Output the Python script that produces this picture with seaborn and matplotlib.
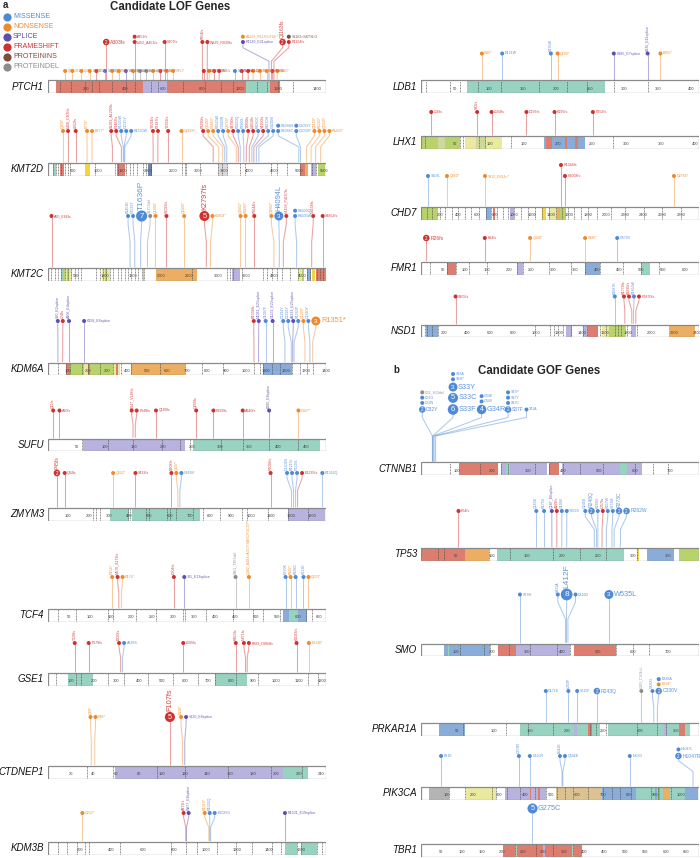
import numpy as np
import pandas as pd
import matplotlib
matplotlib.use("Agg")
import matplotlib.pyplot as plt
import seaborn as sns
from matplotlib.patches import Rectangle

# ============================ DATA ============================
TYPE_CODES = ["M", "N", "S", "F", "I", "D"]
TYPE_NAMES = ["MISSENSE", "NONSENSE", "SPLICE", "FRAMESHIFT", "PROTEININS", "PROTEINDEL"]

# mutation tuples: (position, type, label, count, tier)
PTCH1_LEN = 1447
PTCH1_DOMAINS = [(44, 495, "sal"), (495, 617, "lav"), (617, 1030, "sal"), (1030, 1158, "tea"), (1158, 1207, "sal")]
PTCH1_EXONS = [64, 118, 191, 231, 266, 335, 408, 452, 538, 573, 703, 816, 903, 964, 1086, 1138, 1199, 1277]
PTCH1_MUTS = [
    (89, "N", "Q89*", 1, 0), (127, "N", "W127*", 1, 0), (174, "N", "Q174*", 1, 0), (217, "N", "E217*", 1, 0),
    (252, "F", "L252fs", 1, 0), (297, "M", "G297R", 1, 0), (334, "N", "Q334*", 1, 0), (368, "N", "W368*", 1, 0),
    (405, "S", "405_E8splice", 1, 0), (443, "N", "Q443*", 1, 0), (478, "D", "L478del", 1, 0), (512, "D", "F512del", 1, 0),
    (547, "N", "Q547*", 1, 0), (585, "F", "S585fs", 1, 0), (617, "N", "R617*", 1, 0), (651, "N", "W651*", 1, 0),
    (811, "F", "P811fs", 1, 0), (839, "N", "Q839*", 1, 0), (865, "F", "L865fs", 1, 0), (891, "F", "T891fs", 1, 0),
    (973, "M", "G973R", 1, 0), (1008, "F", "V1008fs", 1, 0), (1042, "F", "S1042fs", 1, 0), (1068, "N", "Q1068*", 1, 0),
    (1103, "N", "R1103*", 1, 0), (1138, "N", "W1138*", 1, 0), (1169, "F", "Y1169fs", 1, 0), (1193, "N", "Q1193*", 1, 0),
    (303, "F", "A303fs", 2, 1), (451, "F", "L452_A451fs", 1, 1), (451, "F", "A451fs", 1, 1), (607, "F", "V607fs", 1, 1),
    (804, "F", "P804fs", 1, 1), (829, "F", "W829_R830fs", 1, 1), (1150, "S", "R1130_E21splice", 1, 1),
    (1150, "N", "A1123_R1130>FUF*", 1, 1), (1163, "F", "Q1163fs", 2, 1), (1176, "F", "R1164fs", 1, 1),
    (1176, "I", "S1162>S&TSLG", 1, 1),
]

KMT2D_LEN = 5537
KMT2D_DOMAINS = [(100, 153, "tea"), (233, 312, "sal"), (731, 831, "yel"), (1376, 1529, "sal"), (1994, 2080, "sla"),
                 (3390, 3556, "lgr"), (5018, 5118, "sal"), (5118, 5180, "ora"), (5230, 5330, "lav"), (5384, 5517, "ygr")]
KMT2D_EXONS = [100, 153, 199, 266, 332, 399, 445, 931, 1329, 1396, 1549, 1642, 1695, 1775, 1894, 1961, 2061, 2659,
               2725, 2758, 3024, 3390, 3456, 3556, 3822, 3922, 4440, 4553, 4752, 5018, 5251, 5338]
KMT2D_MUTS = [
    (299, "N", "Q300*", 1, 0), (399, "F", "L400_C405fs", 1, 0), (552, "F", "L552fs", 1, 0), (778, "N", "E778*", 1, 0),
    (877, "N", "E877*", 1, 0), (1283, "F", "S1283_A1290fs", 1, 0), (1462, "F", "P1462fs", 1, 0),
    (1500, "M", "R1500W", 1, 0), (1515, "M", "C1515Y", 1, 0), (1530, "M", "R1530W", 1, 0), (2094, "F", "Y2094fs", 1, 0),
    (2187, "F", "P2187fs", 1, 0), (2393, "F", "Y2393fs", 1, 0), (2659, "N", "Q2659*", 1, 0), (3290, "F", "P3290fs", 1, 0),
    (3400, "N", "Q3400*", 1, 0), (3480, "N", "R3480*", 1, 0), (3520, "M", "R3520W", 1, 0), (3560, "M", "G3560R", 1, 0),
    (3750, "N", "Q3750*", 1, 0), (3790, "F", "S3790fs", 1, 0), (3830, "M", "R3830Q", 1, 0), (3900, "M", "P3900L", 1, 0),
    (3950, "F", "T3950fs", 1, 0), (4010, "F", "L4010fs", 1, 0), (4060, "M", "R4060C", 1, 0), (4100, "F", "V4100fs", 1, 0),
    (4150, "M", "R4150H", 1, 0), (4200, "M", "G4200S", 1, 0), (4995, "M", "R5048C", 1, 0), (4995, "M", "R5048H", 1, 0),
    (5030, "M", "C5032F", 1, 0), (5030, "M", "C5032Y", 1, 0), (5150, "N", "Q5150*", 1, 0), (5240, "N", "R5240*", 1, 0),
    (5330, "N", "Q5330*", 1, 0), (5430, "N", "R5430*", 1, 0),
]

KMT2C_LEN = 4911
KMT2C_DOMAINS = [(236, 270, "tea"), (270, 300, "ygr"), (300, 330, "pye"), (330, 370, "ygr"), (370, 430, "pye"),
                 (950, 1000, "pye"), (1000, 1050, "ygr"), (1050, 1100, "pye"), (1670, 1700, "tan"), (1904, 2624, "ora"),
                 (3243, 3390, "lav"), (4420, 4480, "pye"), (4480, 4530, "ygr"), (4570, 4640, "blu"),
                 (4660, 4720, "yel"), (4740, 4890, "sal"), (4890, 4911, "grn")]
KMT2C_EXONS = [59, 118, 177, 236, 295, 354, 413, 472, 531, 590, 855, 914, 973, 1032, 1091, 1150, 1238, 1297, 1356,
               1415, 1474, 1533, 1592, 1663, 1698, 2535, 3154, 3213, 3272, 3420, 3803, 3862, 3950, 4039, 4127, 4275,
               4422, 4570, 4629, 4747, 4805, 4864]
KMT2C_MUTS = [
    (62, "F", "A60_E66fs", 1, 0), (1450, "M", "K1451E", 1, 0), (1533, "M", "P1533T", 1, 0), (1636, "M", "T1636P", 7, 0),
    (1757, "D", "S1757del", 1, 0), (1899, "N", "Q1899*", 1, 0), (2093, "F", "S2093fs", 1, 0), (2405, "N", "Q2405*", 1, 0),
    (2797, "F", "K2797fs", 5, 0), (2871, "N", "K2804*", 1, 0), (3402, "N", "Q3402*", 1, 0), (3490, "N", "R3490*", 1, 0),
    (3644, "F", "P3644fs", 1, 0), (3992, "N", "Q3992*", 1, 0), (4086, "M", "H4094L", 3, 0),
    (4157, "F", "H4158_P4157fs", 1, 0), (4392, "M", "R4400W", 1, 0), (4392, "M", "R4400Q", 1, 0),
    (4658, "F", "N4658fs", 1, 0), (4852, "F", "S4852fs", 1, 0),
]

KDM6A_LEN = 1401
KDM6A_DOMAINS = [(93, 109, "sal"), (109, 180, "ygr"), (180, 200, "pye"), (200, 210, "sal"), (210, 330, "ygr"),
                 (330, 362, "pye"), (345, 352, "sal"), (420, 690, "ora"), (1085, 1228, "blu")]
KDM6A_EXONS = [50, 93, 109, 173, 202, 261, 328, 370, 420, 563, 690, 774, 883, 1038, 1068, 1085, 1127, 1169, 1228,
               1270, 1304, 1337]
KDM6A_MUTS = [
    (50, "S", "S50_E2splice", 1, 0), (74, "F", "L74fs", 1, 0), (106, "S", "A106_E4splice", 1, 0),
    (182, "S", "K158_E6splice", 1, 0), (1038, "F", "R1038fs", 1, 0), (1061, "S", "N1061_E21splice", 1, 0),
    (1097, "M", "G1097F", 1, 0), (1132, "S", "G1132_E22splice", 1, 0), (1194, "M", "D1194Y", 1, 0),
    (1226, "M", "D1226Y", 1, 0), (1233, "S", "A1233_E25splice", 1, 0), (1240, "M", "R1240P", 1, 0),
    (1295, "N", "Q1295*", 1, 0), (1320, "M", "C1320Y", 1, 0), (1334, "N", "R1351*", 3, 0),
]

SUFU_LEN = 484
SUFU_DOMAINS = [(61, 238, "lav"), (252, 474, "tea")]
SUFU_EXONS = [60, 105, 148, 199, 230, 247, 302, 340, 385, 435]
SUFU_MUTS = [
    (9, "F", "Q11fs", 1, 0), (20, "F", "A20fs", 1, 0), (148, "F", "F147_V148fs", 1, 0), (152, "F", "F148fs", 1, 0),
    (188, "F", "Q189fs", 1, 0), (258, "F", "Q259fs", 1, 0), (288, "F", "R289fs", 1, 0), (339, "F", "A340fs", 1, 0),
    (385, "S", "K385_E8splice", 1, 0), (436, "N", "G437*", 1, 0),
]

ZMYM3_LEN = 1370
ZMYM3_DOMAINS = [(304, 400, "tea"), (412, 748, "tea"), (1184, 1365, "lav")]
ZMYM3_EXONS = [222, 239, 255, 392, 406, 485, 498, 584, 600, 633, 716, 765, 847, 954, 979, 1086, 1184, 1283]
ZMYM3_MUTS = [
    (44, "F", "P45fs", 2, 0), (82, "F", "Q84fs", 1, 0), (321, "N", "Q322*", 1, 0), (431, "F", "S433fs", 1, 0),
    (608, "F", "D608fs", 1, 0), (640, "N", "Q647*", 1, 0), (650, "M", "G659V", 1, 0), (1097, "F", "P1096fs", 1, 0),
    (1200, "M", "D1201N", 1, 0), (1210, "M", "R1210L", 1, 0), (1220, "M", "P1220L", 1, 0),
    (1230, "F", "E1235fs", 1, 0), (1352, "M", "R1352Q", 1, 0),
]

TCF4_LEN = 667
TCF4_DOMAINS = [(563, 622, "blu"), (578, 600, "tea")]
TCF4_EXONS = [24, 68, 144, 156, 212, 260, 324, 328, 380, 444, 492, 516, 556, 620, 633]
TCF4_MUTS = [
    (154, "N", "R154*", 1, 0), (170, "F", "M170_S173fs", 1, 0), (176, "N", "R174*", 1, 0), (302, "F", "D304fs", 1, 0),
    (327, "S", "331_E13splice", 1, 0), (450, "D", "S461_T463del", 1, 0),
    (482, "N", "Q482_A483>AGGYSASCPGCGP*", 1, 0), (570, "M", "N570K", 1, 0), (582, "N", "R582*", 1, 0),
    (594, "M", "R594C", 1, 0), (613, "M", "V613E", 1, 0), (625, "N", "Q623*", 1, 0),
]

GSE1_LEN = 1217
GSE1_DOMAINS = [(88, 197, "tea"), (730, 872, "tea")]
GSE1_EXONS = [37, 124, 146, 263, 332, 438, 548, 657, 730, 825, 920, 1140, 1183]
GSE1_MUTS = [
    (117, "F", "T120fs", 1, 0), (178, "F", "F179fs", 1, 0), (318, "F", "E320fs", 1, 0), (326, "M", "A328S", 1, 0),
    (592, "F", "L595fs", 1, 0), (822, "F", "R823fs", 1, 0), (865, "F", "N871fs", 1, 0),
    (872, "F", "K883_D884fs", 1, 0), (1088, "F", "K1083fs", 1, 0), (1142, "N", "E1140*", 1, 0),
]

CTDNEP1_LEN = 244
CTDNEP1_DOMAINS = [(59, 206, "lav"), (206, 228, "tea")]
CTDNEP1_EXONS = [34, 57, 96, 120, 158, 196, 223]
CTDNEP1_MUTS = [
    (38, "N", "Q39*", 1, 0), (41, "N", "R42*", 1, 0), (107, "F", "F107fs", 5, 0), (118, "N", "E119*", 1, 0),
    (120, "S", "V120_E8splice", 1, 0),
]

KDM3B_LEN = 1761
KDM3B_DOMAINS = [(1500, 1575, "tea"), (1600, 1706, "tea")]
KDM3B_EXONS = [63, 120, 184, 233, 260, 459, 782, 871, 945, 1068, 1194, 1290, 1416, 1473, 1575, 1600, 1706, 1733]
KDM3B_MUTS = [
    (218, "N", "G222*", 1, 0), (873, "F", "A873fs", 1, 0), (877, "S", "W877_E8splice", 1, 0),
    (1019, "N", "R1019*", 1, 0), (1024, "M", "R1024Q", 1, 0), (1030, "M", "E1025G", 1, 0),
    (1501, "S", "R1501_E19splice", 1, 0),
]

LDB1_LEN = 411
LDB1_DOMAINS = [(68, 272, "tea")]
LDB1_EXONS = [8, 43, 58, 85, 118, 175, 216, 245, 286, 335]
LDB1_MUTS = [
    (90, "N", "W90*", 1, 0), (120, "M", "R121W", 1, 0), (192, "M", "R193W", 1, 0), (202, "N", "Q200*", 1, 0),
    (285, "S", "K285_E7splice", 1, 0), (335, "S", "K335_E11splice", 1, 0), (354, "N", "E350*", 1, 0),
]

LHX1_LEN = 406
LHX1_DOMAINS = [(2, 57, "ygr"), (25, 35, "gyy"), (64, 118, "pye"), (80, 95, "gyy"), (180, 239, "blu"),
                (182, 192, "sal"), (210, 213, "sal"), (225, 230, "sal")]
LHX1_EXONS = [6, 57, 62, 84, 93, 132, 281]
LHX1_MUTS = [
    (15, "F", "L16fs", 1, 0), (82, "F", "V82fs", 1, 0), (103, "F", "L104fs", 1, 0), (154, "F", "D156fs", 1, 0),
    (195, "F", "K195fs", 1, 0), (251, "F", "P252fs", 1, 0),
]

CHD7_LEN = 2997
CHD7_DOMAINS = [(0, 180, "ygr"), (700, 760, "blu"), (780, 800, "sal"), (960, 1000, "lav"), (1300, 1350, "yel"),
                (1380, 1470, "pye"), (1470, 1500, "ora"), (1500, 1560, "ygr")]
CHD7_EXONS = [60, 120, 200, 260, 330, 400, 470, 540, 620, 700, 760, 820, 880, 940, 1000, 1080, 1150, 1230, 1300,
              1380, 1450, 1520, 1580, 1650, 1720, 1800, 1900, 2050, 2200, 2400, 2600, 2800]
CHD7_MUTS = [
    (75, "M", "S103L", 1, 0), (280, "N", "Q360*", 1, 0), (690, "N", "T812_E814>*", 1, 0),
    (1509, "F", "R1344fs", 1, 1), (1552, "F", "K2008fs", 1, 0), (2727, "N", "Q2766*", 1, 0),
]

FMR1_LEN = 632
FMR1_DOMAINS = [(59, 80, "sal"), (218, 232, "lav"), (373, 407, "blu"), (500, 520, "tea")]
FMR1_EXONS = [20, 59, 80, 110, 150, 218, 232, 290, 340, 373, 407, 460, 500, 540]
FMR1_MUTS = [
    (12, "F", "R26fs", 2, 0), (145, "F", "K94fs", 1, 0), (248, "N", "Q446*", 1, 0), (373, "N", "S385*", 1, 0),
    (446, "M", "G570V", 1, 0),
]

NSD1_LEN = 2420
NSD1_DOMAINS = [(43, 151, "blu"), (1266, 1318, "lav"), (1411, 1450, "lav"), (1450, 1537, "sal"), (1575, 1640, "pye"),
                (1640, 1782, "ygr"), (1825, 1875, "lav"), (2159, 2382, "ora")]
NSD1_EXONS = [35, 55, 93, 151, 991, 1121, 1156, 1194, 1237, 1310, 1411, 1446, 1556, 1614, 1687, 1716, 1745, 1794, 1881]
NSD1_MUTS = [
    (301, "F", "S305fs", 1, 0), (1687, "M", "E1687K", 1, 0), (1774, "F", "R1774fs", 1, 0), (1835, "F", "K1835fs", 1, 0),
    (1850, "M", "R1850W", 1, 0), (1870, "F", "P1870fs", 1, 0),
]

CTNNB1_LEN = 781
CTNNB1_DOMAINS = [(108, 217, "sal"), (226, 353, "lav"), (240, 250, "tea"), (359, 388, "sal"), (395, 622, "lav"),
                  (560, 580, "tea")]
CTNNB1_EXONS = [81, 166, 226, 245, 320, 359, 399, 446, 512, 600, 652, 694]
CTNNB1_MUTS = [
    (32, "M", "D32Y", 2, 0), (32, "M", "D32N", 1, 0), (32, "M", "D32G", 1, 0), (32, "D", "D32_S33del", 1, 0),
    (33, "M", "S33F", 6, 0), (33, "M", "S33C", 5, 0), (33, "M", "S33Y", 3, 0), (33, "M", "S33P", 1, 0),
    (33, "M", "S33A", 1, 0), (34, "M", "G34R", 4, 0), (34, "M", "G34V", 1, 0), (34, "M", "G34E", 1, 0),
    (37, "M", "S37F", 2, 0), (37, "M", "S37C", 1, 0), (37, "M", "S37Y", 1, 0), (37, "M", "S37P", 1, 0),
    (41, "M", "T41A", 1, 0),
]

TP53_LEN = 393
TP53_DOMAINS = [(0, 62, "sal"), (62, 96, "ora"), (107, 287, "tea"), (305, 308, "yel"), (320, 358, "blu"), (365, 393, "ygr")]
TP53_EXONS = [24, 32, 96, 126, 186, 225, 261, 305]
TP53_MUTS = [
    (53, "F", "P54fs", 1, 0), (163, "M", "Q165K", 1, 0), (174, "M", "R175H", 1, 0), (185, "S", "Q187_E6splice", 1, 0),
    (192, "F", "A189fs", 1, 0), (199, "M", "G199V", 1, 0), (206, "M", "Y205S", 1, 0), (245, "M", "G245S", 1, 0),
    (248, "M", "R248Q", 2, 0), (250, "M", "R249G", 1, 0), (256, "F", "L257fs", 1, 0), (262, "M", "R267W", 1, 0),
    (270, "M", "V272M", 1, 0), (273, "M", "R273C", 2, 0), (282, "M", "R282W", 2, 0),
]

SMO_LEN = 787
SMO_DOMAINS = [(66, 195, "blu"), (76, 80, "tea"), (219, 270, "sal"), (270, 423, "lav"), (433, 553, "sal")]
SMO_EXONS = [110, 179, 195, 250, 308, 384, 423, 553, 600, 646]
SMO_MUTS = [
    (280, "M", "S278I", 1, 0), (409, "M", "S411A", 1, 0), (412, "M", "L412F", 8, 0), (416, "M", "D416D", 1, 0),
    (532, "M", "W535L", 3, 0),
]

PRKAR1A_LEN = 381
PRKAR1A_DOMAINS = [(24, 60, "blu"), (135, 245, "tea"), (256, 368, "tea"), (229, 235, "sal"), (354, 362, "sal"),
                   (210, 214, "lav"), (333, 337, "lav")]
PRKAR1A_EXONS = [58, 116, 147, 181, 231, 240, 254, 296, 323, 336]
PRKAR1A_MUTS = [
    (171, "M", "G171E", 1, 0), (202, "M", "L203P", 1, 0), (214, "M", "V215F", 1, 0), (241, "M", "R243Q", 2, 0),
    (302, "D", "L303_C304>L", 1, 0), (319, "M", "V320G", 1, 0), (324, "M", "C330V", 2, 0), (324, "N", "E328*", 1, 0),
    (324, "M", "E328A", 1, 0),
]

PIK3CA_LEN = 1068
PIK3CA_DOMAINS = [(31, 109, "gry"), (173, 290, "pye"), (322, 482, "lav"), (418, 424, "sal"), (450, 456, "sal"),
                  (520, 696, "tan"), (696, 827, "blu"), (827, 1013, "tea"), (900, 906, "blu"), (911, 920, "grn"),
                  (930, 958, "ora"), (1013, 1064, "blu")]
PIK3CA_EXONS = [109, 169, 271, 290, 329, 380, 437, 482, 521, 553, 585, 642, 700, 732, 764, 808, 885, 911, 962]
PIK3CA_MUTS = [
    (77, "M", "E81K", 1, 0), (376, "M", "C378R", 1, 0), (418, "M", "C420R", 1, 0), (542, "M", "E542K", 1, 0),
    (545, "M", "Q546K", 1, 0), (802, "M", "N803I", 1, 0), (1045, "M", "H1047R", 2, 0), (1045, "M", "H1047L", 1, 0),
]

TBR1_LEN = 682
TBR1_DOMAINS = [(200, 396, "sal"), (230, 236, "tea"), (300, 305, "lav"), (370, 376, "tea")]
TBR1_EXONS = [230, 283, 324, 373]
TBR1_MUTS = [(273, "M", "G275C", 5, 0)]

# ============================ STYLE / LAYOUT ============================
TYPE_COLORS = ["#4f8ad6", "#ee8a2a", "#5b4fb0", "#cf3030", "#7e4b3d", "#8c8c8c"]
PALETTE = dict(zip(TYPE_CODES, TYPE_COLORS))
DOMAIN_COLORS = {"sal": "#dc7d6f", "lav": "#b7b2de", "tea": "#98d2c1", "ora": "#ebae62", "blu": "#8aacd8",
                 "ygr": "#b8d36c", "pye": "#e9e9a0", "gry": "#b4b4b4", "tan": "#dcc291", "yel": "#f2d53f",
                 "grn": "#86c157", "sla": "#6b86a8", "lgr": "#dadada", "gyy": "#cfd89b"}

GENES = [
    ("PTCH1", PTCH1_LEN, PTCH1_DOMAINS, PTCH1_EXONS, PTCH1_MUTS, dict(col=0, top=80.5, H={0: 9.5, 1: 38.5}, step=200, mode={0: "hx"}, small={0: 2.2})),
    ("KMT2D", KMT2D_LEN, KMT2D_DOMAINS, KMT2D_EXONS, KMT2D_MUTS, dict(col=0, top=163, H={0: 32}, step=500)),
    ("KMT2C", KMT2C_LEN, KMT2C_DOMAINS, KMT2C_EXONS, KMT2C_MUTS, dict(col=0, top=268, H={0: 52}, step=500)),
    ("KDM6A", KDM6A_LEN, KDM6A_DOMAINS, KDM6A_EXONS, KDM6A_MUTS, dict(col=0, top=363, H={0: 42}, step=100)),
    ("SUFU", SUFU_LEN, SUFU_DOMAINS, SUFU_EXONS, SUFU_MUTS, dict(col=0, top=438.5, H={0: 28}, step=50)),
    ("ZMYM3", ZMYM3_LEN, ZMYM3_DOMAINS, ZMYM3_EXONS, ZMYM3_MUTS, dict(col=0, top=508, H={0: 35}, step=100)),
    ("TCF4", TCF4_LEN, TCF4_DOMAINS, TCF4_EXONS, TCF4_MUTS, dict(col=0, top=609, H={0: 32}, step=50)),
    ("GSE1", GSE1_LEN, GSE1_DOMAINS, GSE1_EXONS, GSE1_MUTS, dict(col=0, top=673, H={0: 30}, step=100)),
    ("CTDNEP1", CTDNEP1_LEN, CTDNEP1_DOMAINS, CTDNEP1_EXONS, CTDNEP1_MUTS, dict(col=0, top=766, H={0: 49}, step=20)),
    ("KDM3B", KDM3B_LEN, KDM3B_DOMAINS, KDM3B_EXONS, KDM3B_MUTS, dict(col=0, top=842, H={0: 29}, step=200)),
    ("LDB1", LDB1_LEN, LDB1_DOMAINS, LDB1_EXONS, LDB1_MUTS, dict(col=1, top=80.5, H={0: 27}, step=50)),
    ("LHX1", LHX1_LEN, LHX1_DOMAINS, LHX1_EXONS, LHX1_MUTS, dict(col=1, top=136, H={0: 24}, step=50)),
    ("CHD7", CHD7_LEN, CHD7_DOMAINS, CHD7_EXONS, CHD7_MUTS, dict(col=1, top=207, H={0: 31, 1: 42}, step=200)),
    ("FMR1", FMR1_LEN, FMR1_DOMAINS, FMR1_EXONS, FMR1_MUTS, dict(col=1, top=262, H={0: 24}, step=50)),
    ("NSD1", NSD1_LEN, NSD1_DOMAINS, NSD1_EXONS, NSD1_MUTS, dict(col=1, top=324.5, H={0: 28}, step=200)),
    ("CTNNB1", CTNNB1_LEN, CTNNB1_DOMAINS, CTNNB1_EXONS, CTNNB1_MUTS, dict(col=1, top=462.5, H={0: 53}, step=100, mode={0: "h"})),
    ("TP53", TP53_LEN, TP53_DOMAINS, TP53_EXONS, TP53_MUTS, dict(col=1, top=548, H={0: 37}, step=50)),
    ("SMO", SMO_LEN, SMO_DOMAINS, SMO_EXONS, SMO_MUTS, dict(col=1, top=643.5, H={0: 49}, step=100)),
    ("PRKAR1A", PRKAR1A_LEN, PRKAR1A_DOMAINS, PRKAR1A_EXONS, PRKAR1A_MUTS, dict(col=1, top=723, H={0: 32}, step=50)),
    ("PIK3CA", PIK3CA_LEN, PIK3CA_DOMAINS, PIK3CA_EXONS, PIK3CA_MUTS, dict(col=1, top=787, H={0: 31}, step=100)),
    ("TBR1", TBR1_LEN, TBR1_DOMAINS, TBR1_EXONS, TBR1_MUTS, dict(col=1, top=844, H={0: 36}, step=50)),
]

FIG_W, FIG_H = 700, 858
COLS_X = [48, 421]
COL_MARGIN = [25.0, 0.5]   # how far labels may run past the bar end
BAR_W = 278
BAR_H = 12.5
AX_H = 140
PT2PX = 100.0 / 72.0

sns.set_theme(style="white")
plt.rcParams["font.family"] = ["Liberation Sans", "DejaVu Sans"]


def head_d(c):
    if c == 1:
        return 4.0
    if c == 2:
        return 6.5
    return min(11.7, 7.3 + 0.55 * c)


def label_fs(c):
    if c == 1:
        return 2.6
    if c == 2:
        return 3.6
    return 5.3 if c < 7 else 6.0


def text_w(s, fs):
    return len(s) * fs * 0.56 * PT2PX


def spread(xs, lefts, rights, lclamp, rclamp, lo, hi, pad=1.0):
    n = len(xs)
    order = sorted(range(n), key=lambda i: xs[i])
    clusters = [[i] for i in order]

    def place(cl):
        offs = [0.0]
        for a, b in zip(cl[:-1], cl[1:]):
            offs.append(offs[-1] + rights[a] + lefts[b] + pad)
        start = float(np.mean([xs[i] - o for i, o in zip(cl, offs)]))
        start = min(start, hi - rclamp[cl[-1]] - offs[-1])
        start = max(start, lo + lclamp[cl[0]])
        return start, offs

    changed = True
    while changed:
        changed = False
        placed = [place(c) for c in clusters]
        for k in range(len(clusters) - 1):
            end_k = placed[k][0] + placed[k][1][-1]
            st_k1 = placed[k + 1][0]
            a, b = clusters[k][-1], clusters[k + 1][0]
            if st_k1 - end_k < rights[a] + lefts[b] + pad - 1e-6:
                clusters[k] = clusters[k] + clusters[k + 1]
                del clusters[k + 1]
                changed = True
                break
    res = [0.0] * n
    for c in clusters:
        s, offs = place(c)
        for i, o in zip(c, offs):
            res[i] = s + o
    return res


def draw_gene(fig, name, length, domains, exons, muts, lay):
    x0 = COLS_X[lay["col"]]
    margin = COL_MARGIN[lay["col"]]
    bottom_px = lay["top"] + BAR_H
    ax = fig.add_axes([x0 / FIG_W, 1 - bottom_px / FIG_H, BAR_W / FIG_W, AX_H / FIG_H])
    ax.set_facecolor("none")
    ppu = BAR_W / length

    ax.add_patch(Rectangle((0, 0), length, BAR_H, facecolor="white", edgecolor="none", zorder=0.5))
    for s, e, c in domains:
        ax.add_patch(Rectangle((s, 0), e - s, BAR_H, facecolor=DOMAIN_COLORS[c], edgecolor="none", zorder=1))
    ax.vlines(exons, 0.4, BAR_H - 0.4, colors="#4a4a4a", linestyles=(0, (1.0, 1.0)), linewidth=0.55, zorder=2)
    ax.add_patch(Rectangle((0, 0), length, BAR_H, facecolor="none", edgecolor="#8a8a8a", linewidth=0.9, zorder=3))
    step = lay["step"]
    for t in range(step, length + 1, step):
        ax.text(t, 4.2, str(t), fontsize=2.9, ha="center", va="center", color="#444444", zorder=4)
    ax.annotate(name, xy=(0, BAR_H / 2), xytext=(-4, 0), textcoords="offset pixels", ha="right", va="center",
                fontsize=7.0, style="italic", color="#111111", annotation_clip=False)

    df = pd.DataFrame(muts, columns=["pos", "type", "label", "count", "tier"])
    heads = []
    modes = lay.get("mode", {})
    smalls = lay.get("small", {})
    for tier, sub in df.groupby("tier", sort=True):
        H = lay["H"][tier]
        mode = modes.get(tier, "auto")
        units = []
        for pos, g in sub.groupby("pos", sort=True):
            items = g.to_dict("records")
            for it in items:
                it["d"] = head_d(it["count"])
                it["fs"] = smalls.get(tier, label_fs(it["count"])) if it["count"] == 1 else label_fs(it["count"])
                it["tw"] = text_w(it["label"], it["fs"])
            r = max(it["d"] for it in items) / 2
            tw = max(it["tw"] for it in items)
            units.append(dict(pos=pos, items=items, r=r, tw=tw, stack=len(items) > 1))
        xs = [u["pos"] * ppu for u in units]
        lefts, rights, lcl, rcl = [], [], [], []
        for u in units:
            vh = max(u["items"][0]["fs"] * PT2PX * 0.5, u["r"])
            if mode == "hx":
                lefts.append(u["r"]); rights.append(u["r"]); lcl.append(u["r"]); rcl.append(u["r"])
            elif mode == "h" or u["stack"]:
                lefts.append(u["r"]); rights.append(u["r"] + 1.0 + u["tw"])
                lcl.append(u["r"]); rcl.append(u["r"] + 1.0 + u["tw"])
            else:
                lefts.append(vh); rights.append(vh); lcl.append(u["r"]); rcl.append(vh)
        cs = spread(xs, lefts, rights, lcl, rcl, -2.0, BAR_W + margin)
        ordr = sorted(range(len(units)), key=lambda i: cs[i])
        for k, i in enumerate(ordr):
            u = units[i]
            if mode in ("h", "hx") or u["stack"]:
                horiz = True
            elif k == len(ordr) - 1:
                horiz = cs[i] + u["r"] + 0.8 + u["tw"] <= BAR_W + margin
            else:
                j = ordr[k + 1]
                room = (cs[j] - units[j]["r"]) - (cs[i] + u["r"] + 0.8)
                horiz = room >= u["tw"] + 1.0
            u["horiz"] = horiz
            u["c"] = cs[i]

        for u in units:
            hx = u["c"] / ppu
            base = BAR_H + H
            col0 = PALETTE[u["items"][0]["type"]]
            ax.plot([u["pos"], u["pos"], hx, hx],
                    [BAR_H + 0.8, BAR_H + 0.5 * H, BAR_H + 0.85 * H, base],
                    color=col0, alpha=0.45, linewidth=0.75, zorder=3.5, solid_capstyle="butt", clip_on=False)
            y = base
            prev_d = None
            for it in u["items"]:
                if prev_d is not None:
                    y = y + prev_d / 2 + it["d"] / 2 + 1.3
                prev_d = it["d"]
                col = PALETTE[it["type"]]
                heads.append(dict(x=hx, y=y, type=it["type"], s=(it["d"] / PT2PX) ** 2))
                if it["count"] > 1:
                    ax.text(hx, y - 0.1, str(it["count"]), ha="center", va="center", color="white",
                            fontsize=it["d"] * 0.72 / PT2PX, zorder=7)
                r = it["d"] / 2
                if u["horiz"]:
                    ax.text(hx + (r + 0.6) / ppu, y, it["label"], ha="left", va="center", fontsize=it["fs"],
                            color=col, alpha=0.9, zorder=6)
                else:
                    ax.text(hx, y + r + 0.8, it["label"], ha="center", va="bottom", rotation=90,
                            fontsize=it["fs"], color=col, alpha=0.9, zorder=6)

    hd = pd.DataFrame(heads)
    sizes = {v: v for v in hd["s"].unique()}
    sns.scatterplot(data=hd, x="x", y="y", hue="type", palette=PALETTE, size="s", sizes=sizes,
                    legend=False, ax=ax, linewidth=0, zorder=5, clip_on=False)
    ax.set_xlim(0, length)
    ax.set_ylim(0, AX_H)
    ax.axis("off")


fig = plt.figure(figsize=(FIG_W / 100, FIG_H / 100), dpi=100)
fig.patch.set_facecolor("white")

# legend (figure-level)
leg = fig.add_axes([0, 0, 1, 1])
leg.set_xlim(0, FIG_W)
leg.set_ylim(FIG_H, 0)
leg.axis("off")
for k, (code, nm) in enumerate(zip(TYPE_CODES, TYPE_NAMES)):
    yy = 17 + 10 * k
    leg.scatter([6.5], [yy], s=(8.2 / PT2PX) ** 2, color=PALETTE[code], linewidths=0)
    leg.text(13, yy, nm, fontsize=5.1, color=PALETTE[code], ha="left", va="center")

fig.text(3 / FIG_W, 1 - 5 / FIG_H, "a", fontsize=7, weight="bold", ha="left", va="center")
fig.text(170 / FIG_W, 1 - 7 / FIG_H, "Candidate LOF Genes", fontsize=8.3, weight="bold", ha="center", va="center")
fig.text(393 / FIG_W, 1 - 370 / FIG_H, "b", fontsize=7, weight="bold", ha="left", va="center")
fig.text(539 / FIG_W, 1 - 371 / FIG_H, "Candidate GOF Genes", fontsize=8.3, weight="bold", ha="center", va="center")

for g in GENES:
    draw_gene(fig, *g)

fig.savefig("out.png", dpi=100, facecolor="white")
